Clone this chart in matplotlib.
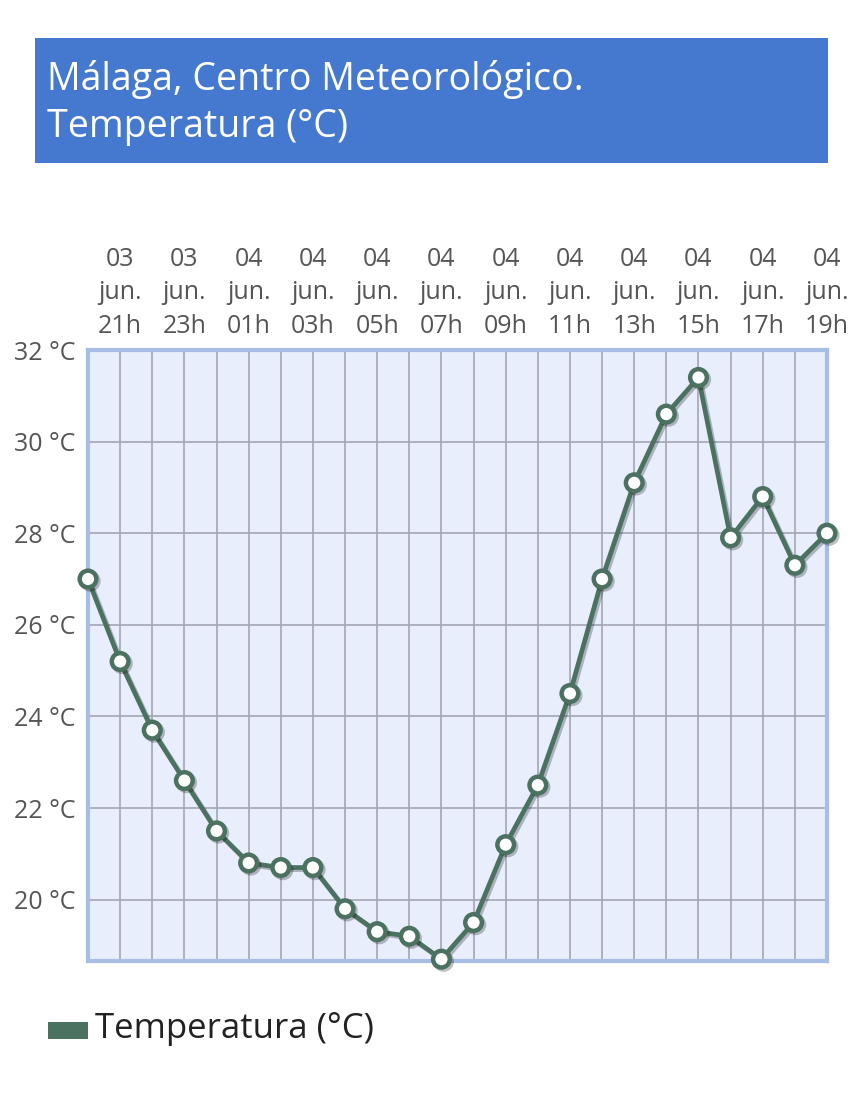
import numpy as np
import matplotlib.pyplot as plt
import matplotlib.patheffects as pe
from matplotlib.patches import Rectangle

plt.rcParams['font.family'] = ['Open Sans', 'DejaVu Sans']

hours = ['03 jun.\n20h', '03 jun.\n21h', '03 jun.\n22h', '03 jun.\n23h',
         '04 jun.\n00h', '04 jun.\n01h', '04 jun.\n02h', '04 jun.\n03h',
         '04 jun.\n04h', '04 jun.\n05h', '04 jun.\n06h', '04 jun.\n07h',
         '04 jun.\n08h', '04 jun.\n09h', '04 jun.\n10h', '04 jun.\n11h',
         '04 jun.\n12h', '04 jun.\n13h', '04 jun.\n14h', '04 jun.\n15h',
         '04 jun.\n16h', '04 jun.\n17h', '04 jun.\n18h', '04 jun.\n19h']
temps = [27.0, 25.2, 23.7, 22.6, 21.5, 20.8, 20.7, 20.7, 19.8, 19.3, 19.2, 18.7,
         19.5, 21.2, 22.5, 24.5, 27.0, 29.1, 30.6, 31.4, 27.9, 28.8, 27.3, 28.0]
y_ticks = [20, 22, 24, 26, 28, 30, 32]

line_col = '#4b7260'

fig = plt.figure(figsize=(8.63, 11), dpi=100)

# title banner
fig.patches.append(Rectangle((35 / 863, 1 - 163 / 1100), 793 / 863, 125 / 1100,
                             transform=fig.transFigure, facecolor='#4479cf',
                             edgecolor='none'))
fig.text(47 / 863, 1 - 103 / 1100, 'Málaga, Centro Meteorológico.\nTemperatura (°C)',
         color='white', fontsize=27, va='center', ha='left', linespacing=1.3)

ax = fig.add_axes([88 / 863, 1 - 961 / 1100, 739 / 863, 611 / 1100])
x = np.arange(len(temps))
ax.set_facecolor('#e8eefb')
ax.plot(x, temps, color=line_col, lw=3.4, marker='o', ms=12, mfc='white',
        mec=line_col, mew=3.2, zorder=5, clip_on=False,
        path_effects=[pe.SimpleLineShadow(offset=(1.5, -1.5), alpha=0.25), pe.Normal()])

ax.set_xlim(0, len(temps) - 1)
ax.set_ylim(18.66, 32)
ax.set_xticks(x)
ax.set_xticklabels([h.replace(' ', '\n') if i % 2 == 1 else '' for i, h in enumerate(hours)],
                   linespacing=1.45)
ax.xaxis.tick_top()
ax.set_yticks(y_ticks)
ax.set_yticklabels([f'{v} °C' for v in y_ticks])
ax.tick_params(axis='both', length=0, labelsize=18, labelcolor='#555555')
ax.tick_params(axis='x', pad=8)
ax.tick_params(axis='y', pad=9)
ax.grid(True, color='#a3a7b3', lw=1.2)
ax.set_axisbelow(True)
for s in ax.spines.values():
    s.set_color('#a7bde6')
    s.set_linewidth(3)

# legend
fig.patches.append(Rectangle((48 / 863, 1 - 1039 / 1100), 40 / 863, 17 / 1100,
                             transform=fig.transFigure, facecolor=line_col,
                             edgecolor='none'))
fig.text(95 / 863, 1 - 1029 / 1100, 'Temperatura (°C)', fontsize=25,
         color='#222222', va='center', ha='left')

fig.savefig('out.png', dpi=100)
